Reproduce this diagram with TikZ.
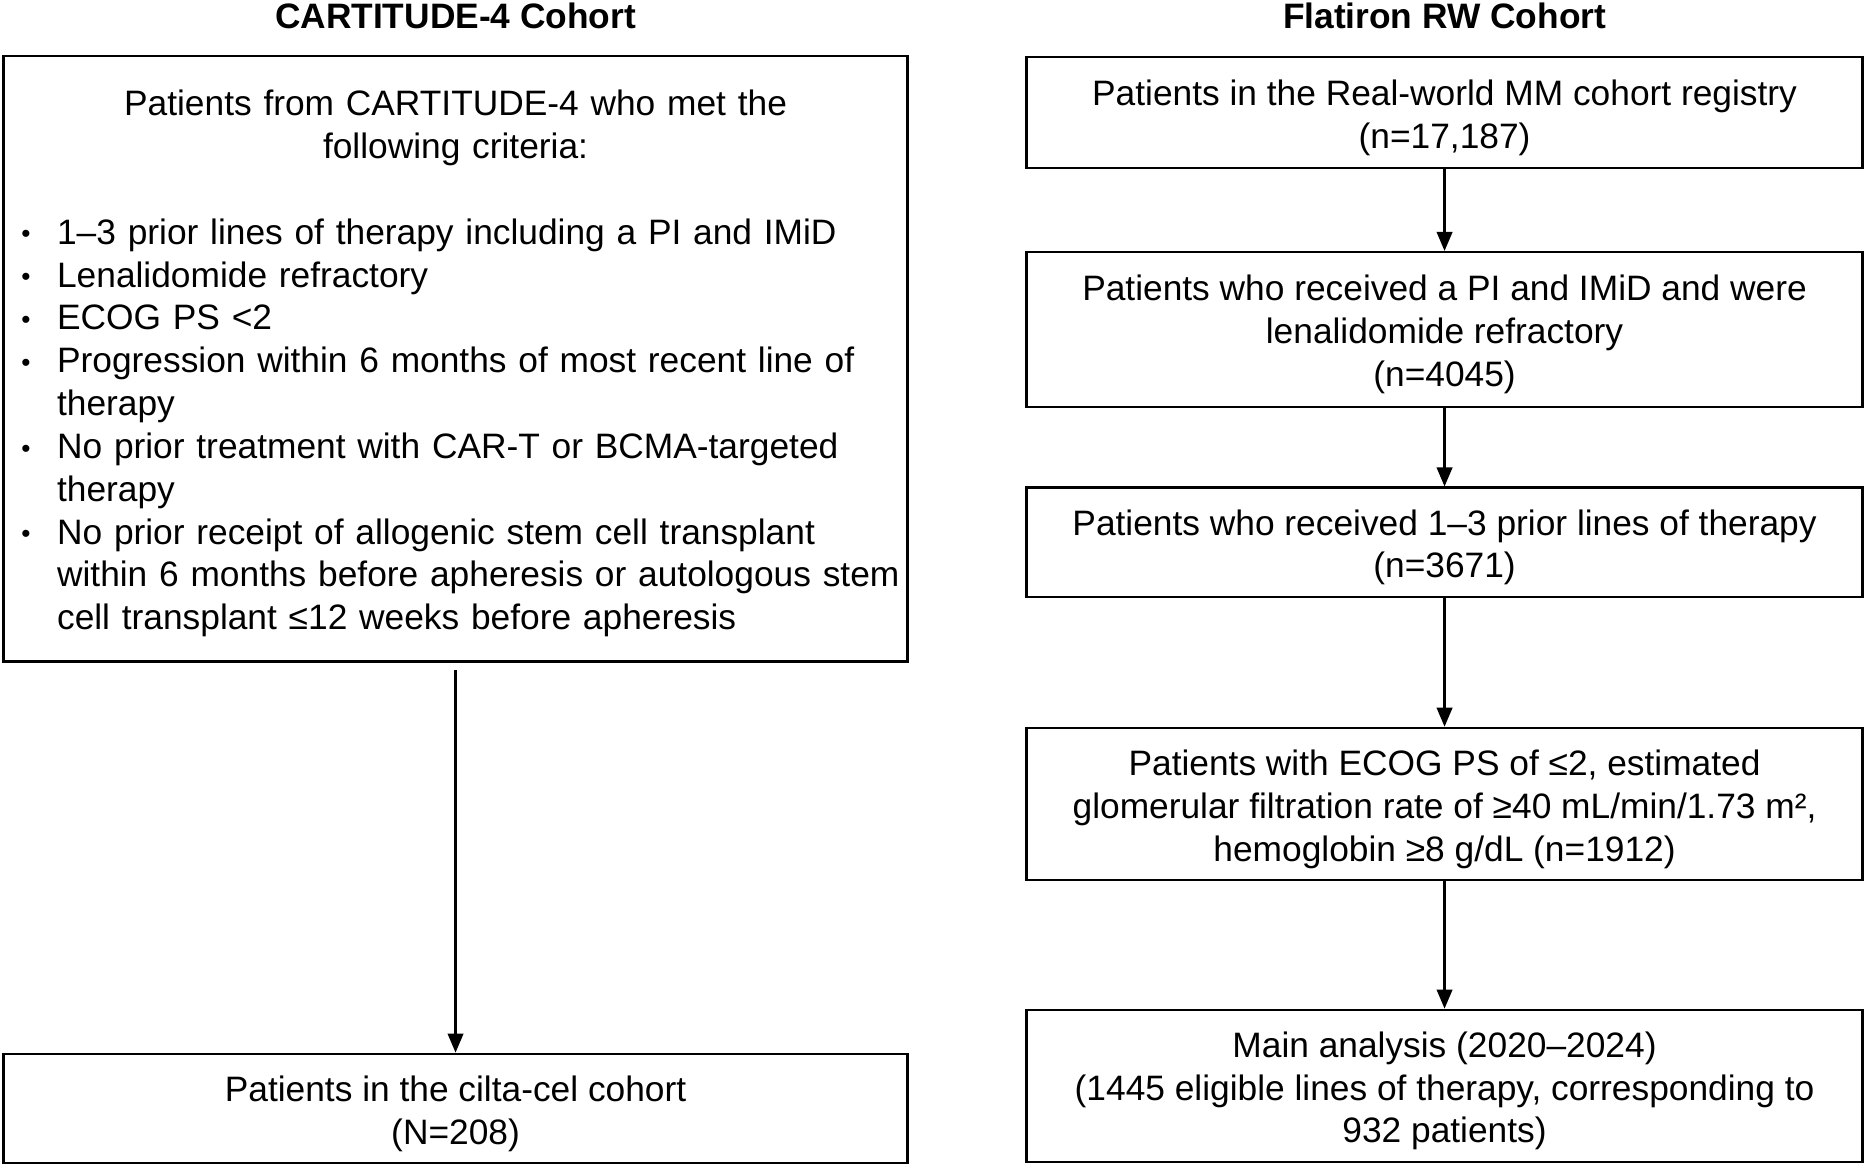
\documentclass[tikz,border=0pt]{standalone}
\usepackage{fontspec}
\setmainfont{Liberation Sans}
\usetikzlibrary{arrows.meta}
\newcommand\myfs{\fontsize{14.85pt}{18pt}\selectfont}
\newcommand\strt{\rule{0pt}{15pt}}
\newcommand\blt{\par\noindent\hangindent=14pt\hangafter=1\makebox[14pt][l]{\kern-1pt\raisebox{0.6pt}{\fontsize{11pt}{11pt}\selectfont •}}}
\begin{document}
\begin{tikzpicture}[x=0.5pt,y=-0.5pt,
  box/.style={draw, line width=1pt, inner sep=0pt, align=center, font=\myfs},
  lbox/.style={box, minimum width=380pt},
  rbox/.style={box, minimum width=351.5pt},
  ttl/.style={font=\myfs\bfseries, inner sep=0pt},
  arr/.style={-{Triangle[length=8pt,width=6.5pt]}, line width=1pt}]
\useasboundingbox (0,0) rectangle (1568,982);
\node[ttl] (t1) at (383,13) {CARTITUDE-4 Cohort};
\node[ttl] (t2) at (1214.5,13) {Flatiron RW Cohort};
\node[lbox, minimum height=254.5pt, text width=363pt, align=left, inner xsep=8.5pt] (c4) at (383,301.5)
 {{\centering\strt Patients from CARTITUDE-4 who met the\\following criteria:\par}
 \vspace{18pt}
 \blt 1–3 prior lines of therapy including a PI and IMiD
 \blt Lenalidomide refractory
 \blt ECOG PS <2
 \blt Progression within 6 months of most recent line of\newline therapy
 \blt No prior treatment with CAR-T or BCMA-targeted\newline therapy
 \blt No prior receipt of allogenic stem cell transplant\newline \mbox{within 6 months before apheresis or autologous stem}\newline cell transplant ≤12 weeks before apheresis\par};
\node[lbox, minimum height=46pt] (cilta) at (383,932) {\strt Patients in the cilta-cel cohort\\(N=208)};
\node[rbox, minimum height=46.5pt] (r1) at (1214.5,94.5) {\strt Patients in the Real-world MM cohort registry\\(n=17,187)};
\node[rbox, minimum height=65pt] (r2) at (1214.5,277) {\strt Patients who received a PI and IMiD and were\\lenalidomide refractory\\(n=4045)};
\node[rbox, minimum height=46pt] (r3) at (1214.5,456) {\strt Patients who received 1–3 prior lines of therapy\\(n=3671)};
\node[rbox, minimum height=64pt] (r4) at (1214.5,676) {\strt Patients with ECOG PS of ≤2, estimated\\glomerular filtration rate of ≥40 mL/min/1.73 m²,\\hemoglobin ≥8 g/dL (n=1912)};
\node[rbox, minimum height=64pt] (r5) at (1214.5,913) {\strt Main analysis (2020–2024)\\(1445 eligible lines of therapy, corresponding to\\932 patients)};
\draw[arr] ([yshift=-3pt]c4.south) -- (cilta.north);
\draw[arr] (r1) -- (r2);
\draw[arr] (r2) -- (r3);
\draw[arr] (r3) -- (r4);
\draw[arr] (r4) -- (r5);
\end{tikzpicture}
\end{document}
